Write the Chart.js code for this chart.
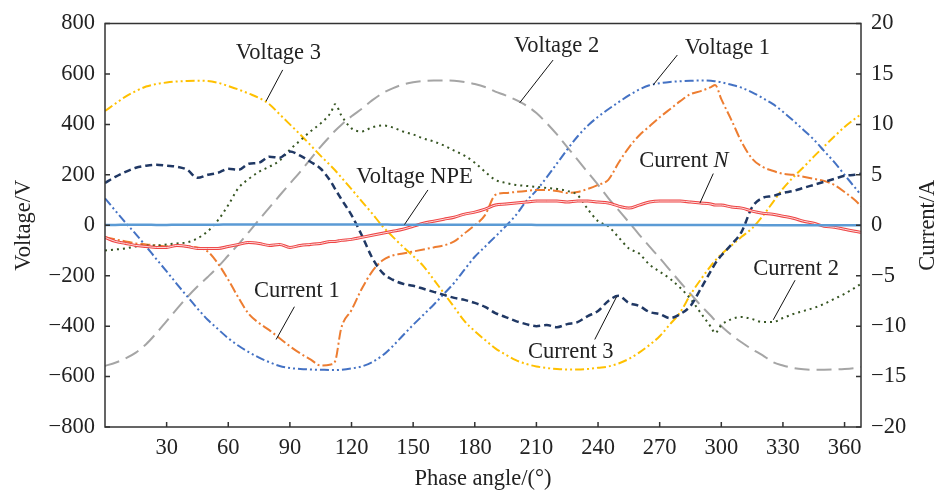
<!DOCTYPE html>
<html><head><meta charset="utf-8">
<script src="https://cdn.jsdelivr.net/npm/chart.js@4.4.1/dist/chart.umd.min.js"></script>
<style>html,body{margin:0;padding:0;background:#fff;}canvas{display:block;}</style>
</head><body>
<canvas id="c" width="938" height="495"></canvas>
<script>
// ---- data ----
const angles = [0,5,10,15,20,25,30,35,40,45,
 50,55,60,65,70,75,80,85,90,95,
 100,105,110,112,115,120,125,130,135,140,
 145,150,155,160,165,170,175,180,185,190,
 195,200,205,210,215,220,225,230,235,240,
 245,250,255,260,265,270,275,280,285,290,
 295,297,300,305,310,315,320,325,330,335,
 340,345,350,355,360,365,368];

const voltage1 = [107,58,10,-35,-84,-134,-183,-233,-282,-330,
 -375,-412,-448,-478,-503,-525,-543,-558,-566,-570,
 -572,-573,-574,-574,-573,-568,-560,-543,-517,-480,
 -437,-395,-355,-315,-272,-228,-176,-125,-85,-45,
 -4,40,95,138,190,245,300,352,395,430,
 460,488,515,538,555,563,568,571,573,574,
 573,571,567,557,545,527,505,481,450,415,
 378,340,295,250,200,150,120];

const voltage2 = [-558,-545,-528,-505,-472,-428,-380,-332,-285,-243,
 -205,-165,-120,-75,-27,22,70,118,165,212,
 262,312,357,375,398,432,462,495,523,543,
 558,567,572,574,574,573,568,560,548,530,
 515,497,475,445,405,360,310,260,210,160,
 108,60,12,-37,-84,-130,-178,-226,-272,-318,
 -360,-378,-400,-435,-465,-492,-515,-542,-556,-566,
 -571,-573,-573,-572,-570,-566,-562];

const voltage3 = [453,482,510,532,550,560,566,570,572,573,
 572,565,552,538,522,505,480,440,400,360,
 318,275,235,218,190,143,95,47,-3,-45,
 -85,-122,-162,-215,-270,-325,-380,-420,-455,-488,
 -513,-535,-550,-560,-566,-570,-572,-572,-570,-565,
 -560,-548,-530,-505,-475,-440,-393,-345,-275,-215,
 -160,-140,-115,-80,-45,-12,35,90,145,190,
 230,272,312,352,390,422,440];

const voltageNPE = [1,1,2,2,2,1,1,2,2,2,
 2,2,3,3,3,3,3,3,3,3,
 3,3,3,3,3,3,3,3,3,2,
 2,2,2,2,2,2,2,2,2,2,
 2,2,2,1,1,1,1,1,1,1,
 1,1,1,1,1,1,1,1,1,1,
 1,1,1,1,1,1,0,0,0,0,
 0,0,0,0,0,0,0];

const current1 = [-1.2,-1.4,-1.6,-1.8,-1.9,-2.0,-2.1,-2.0,-2.1,-2.2,
 -2.6,-3.8,-5.4,-7.2,-8.8,-9.7,-10.4,-11.2,-12.0,-12.7,
 -13.3,-13.9,-13.8,-13.5,-10.2,-8.4,-6.3,-4.6,-3.5,-3.0,
 -2.8,-2.6,-2.4,-2.2,-2.0,-1.6,-0.8,0.0,1.0,3.0,
 3.2,3.3,3.4,3.5,3.5,3.4,3.2,3.3,3.6,4.0,
 4.5,6.2,7.7,8.9,9.8,10.7,11.5,12.3,13.0,13.3,
 13.7,13.9,12.5,10.4,8.2,6.6,5.8,5.4,5.1,5.0,
 4.8,4.6,4.4,4.0,3.3,2.5,1.9];

const current2 = [-2.5,-2.4,-2.3,-2.1,-2.0,-2.0,-1.9,-1.8,-1.7,-1.3,
 -0.6,0.5,2.0,3.7,4.6,5.3,5.8,6.4,7.5,8.4,
 9.3,10.1,11.2,12.0,10.9,9.6,9.3,9.7,9.9,9.7,
 9.3,9.0,8.6,8.3,7.9,7.4,6.9,6.2,5.3,4.5,
 4.2,4.0,3.9,3.8,3.7,3.6,3.4,3.0,1.6,0.4,
 -0.1,-1.2,-2.3,-2.8,-3.9,-4.6,-5.3,-6.2,-7.3,-8.7,
 -10.1,-10.7,-9.9,-9.3,-9.1,-9.3,-9.6,-9.6,-9.2,-8.8,
 -8.5,-8.2,-7.8,-7.3,-6.8,-6.2,-5.8];

const current3 = [4.2,4.8,5.3,5.7,5.9,6.0,5.9,5.8,5.5,4.7,
 5.0,5.2,5.6,5.5,6.1,6.2,6.8,6.7,7.3,6.9,
 6.3,5.6,4.3,3.6,2.6,1.0,-1.0,-3.2,-4.7,-5.4,
 -5.8,-6.0,-6.3,-6.6,-6.9,-7.2,-7.4,-7.7,-8.1,-8.7,
 -9.1,-9.5,-9.8,-10.0,-9.9,-10.1,-9.8,-9.6,-9.0,-8.5,
 -7.5,-7.0,-7.7,-8.0,-8.6,-8.8,-9.2,-8.8,-8.0,-6.3,
 -4.5,-3.8,-3.0,-1.9,-0.6,1.8,2.7,2.9,3.2,3.4,
 3.7,4.0,4.3,4.6,4.9,5.0,5.1];

const currentN = [-1.2,-1.6,-1.8,-2.0,-2.1,-2.2,-2.2,-2.0,-2.1,-2.3,
 -2.3,-2.3,-2.1,-1.9,-1.7,-1.8,-2.0,-1.9,-2.2,-2.0,
 -1.9,-1.8,-1.6,-1.6,-1.5,-1.4,-1.2,-1.0,-0.8,-0.6,
 -0.4,-0.1,0.2,0.4,0.6,0.8,1.1,1.3,1.6,2.0,
 2.1,2.2,2.3,2.4,2.4,2.4,2.3,2.4,2.4,2.3,
 2.2,1.9,1.7,2.0,2.3,2.4,2.4,2.4,2.3,2.2,
 2.1,2.0,2.0,1.8,1.7,1.4,1.2,1.1,0.9,0.7,
 0.4,0.2,-0.1,-0.2,-0.4,-0.6,-0.7];

const xTickValues = [30,60,90,120,150,180,210,240,270,300,330,360];
const voltageTicks = [-800,-600,-400,-200,0,200,400,600,800];
const currentTicks = [-20,-15,-10,-5,0,5,10,15,20];

const xTitle = 'Phase angle/(°)';
const yTitle = 'Voltage/V';
const y1Title = 'Current/A';

// annotation labels: text anchor and leader line in data units (angle, voltage axis)
const annotations = [
  {text:'Voltage 3', x:84.4, y:659, line:[86.5,616,78.4,492]},
  {text:'Voltage 2', x:219.8, y:688, line:[218.1,655,201.9,486]},
  {text:'Voltage 1', x:303.0, y:678, line:[278.6,675,266.9,557]},
  {text:'Voltage NPE', x:150.7, y:166, line:[157.2,140,145.8,3]},
  {text:'Current ', italic:'N', x:281.8, y:229, line:[296.1,205,289.6,88]},
  {text:'Current 1', x:93.4, y:-284, line:[92.2,-323,83.3,-453]},
  {text:'Current 3', x:226.7, y:-528, line:[238.4,-453,249.0,-284]},
  {text:'Current 2', x:336.4, y:-199, line:[335.9,-218,325.3,-375]}
];

// ---- chart ----
const FONT = "'Liberation Serif', 'Times New Roman', serif";
const FS = 22.5;
const TXT = '#222';
const pts = arr => angles.map((a,i)=>({x:a, y:arr[i]}));
const fmt = v => v < 0 ? '\u2212' + Math.abs(v) : String(v);

function ds(label, arr, axis, color, width, dash){
  return {label, data: pts(arr), yAxisID: axis, borderColor: color, borderWidth: width,
    borderDash: dash, pointRadius: 0, fill: false, cubicInterpolationMode: 'monotone'};
}

const datasets = [
  ds('Voltage NPE', voltageNPE, 'y', '#5B9BD5', 2.5, []),
  ds('Current N inner', currentN, 'y1', '#FCDCDC', 1, []),
  ds('Current N', currentN, 'y1', '#EE4444', 3, []),
  ds('Current 3', current3, 'y1', '#203864', 2.5, [7,4]),
  ds('Current 2', current2, 'y1', '#375623', 2, [2,4]),
  ds('Current 1', current1, 'y1', '#ED7D31', 2, [10,3,2,3]),
  ds('Voltage 1', voltage1, 'y', '#4472C4', 2, [9,3,2,3,2,3]),
  ds('Voltage 3', voltage3, 'y', '#FFC000', 2, [9,3,2,3,2,3]),
  ds('Voltage 2', voltage2, 'y', '#A5A5A5', 2, [15,7])
];

const axisCommon = {
  grid: {display: false, drawTicks: false},
  border: {display: false},
  ticks: {color: TXT, font: {family: FONT, size: FS}, padding: 10, autoSkip: false, maxRotation: 0}
};

const framePlugin = {
  id: 'frame',
  afterDraw(chart){
    const {ctx, chartArea: a, scales} = chart;
    ctx.save();
    ctx.strokeStyle = '#333';
    ctx.lineWidth = 1.5;
    ctx.strokeRect(a.left, a.top, a.right - a.left, a.bottom - a.top);
    ctx.beginPath();
    scales.x.ticks.forEach(t => { const p = scales.x.getPixelForValue(t.value); ctx.moveTo(p, a.bottom); ctx.lineTo(p, a.bottom - 5); });
    scales.y.ticks.forEach(t => { const p = scales.y.getPixelForValue(t.value); ctx.moveTo(a.left, p); ctx.lineTo(a.left + 5, p); });
    scales.y1.ticks.forEach(t => { const p = scales.y1.getPixelForValue(t.value); ctx.moveTo(a.right, p); ctx.lineTo(a.right - 5, p); });
    ctx.stroke();

    // axis titles
    ctx.fillStyle = TXT;
    ctx.font = FS + 'px ' + FONT;
    ctx.textAlign = 'center';
    ctx.textBaseline = 'alphabetic';
    ctx.fillText(xTitle, (a.left + a.right) / 2, 485);
    const cy = (a.top + a.bottom) / 2;
    ctx.save(); ctx.translate(30, cy); ctx.rotate(-Math.PI/2); ctx.fillText(yTitle, 0, 0); ctx.restore();
    ctx.save(); ctx.translate(934, cy); ctx.rotate(-Math.PI/2); ctx.fillText(y1Title, 0, 0); ctx.restore();

    // annotations
    const X = scales.x, Y = scales.y;
    ctx.strokeStyle = '#111';
    ctx.lineWidth = 1;
    annotations.forEach(an => {
      const [x1,y1,x2,y2] = an.line;
      ctx.beginPath();
      ctx.moveTo(X.getPixelForValue(x1), Y.getPixelForValue(y1));
      ctx.lineTo(X.getPixelForValue(x2), Y.getPixelForValue(y2));
      ctx.stroke();
      const cx = X.getPixelForValue(an.x), by = Y.getPixelForValue(an.y);
      ctx.font = FS + 'px ' + FONT;
      if (an.italic) {
        const w1 = ctx.measureText(an.text).width;
        ctx.font = 'italic ' + FS + 'px ' + FONT;
        const w2 = ctx.measureText(an.italic).width;
        const sx = cx - (w1 + w2) / 2;
        ctx.textAlign = 'left';
        ctx.font = FS + 'px ' + FONT;
        ctx.fillText(an.text, sx, by);
        ctx.font = 'italic ' + FS + 'px ' + FONT;
        ctx.fillText(an.italic, sx + w1, by);
      } else {
        ctx.textAlign = 'center';
        ctx.fillText(an.text, cx, by);
      }
    });
    ctx.restore();
  }
};

new Chart(document.getElementById('c'), {
  type: 'line',
  data: {datasets},
  options: {
    responsive: false,
    animation: false,
    devicePixelRatio: 1,
    layout: {padding: {top: 18, left: 0, right: 0, bottom: 0}},
    plugins: {legend: {display: false}, tooltip: {enabled: false}},
    scales: {
      x: Object.assign({}, axisCommon, {
        type: 'linear', position: 'bottom', min: 0, max: 368,
        afterBuildTicks: s => { s.ticks = xTickValues.map(v => ({value: v})); },
        afterFit: s => { s.height = 68; },
        ticks: Object.assign({}, axisCommon.ticks, {padding: 8, callback: v => String(v)})
      }),
      y: Object.assign({}, axisCommon, {
        type: 'linear', position: 'left', min: -800, max: 800,
        afterBuildTicks: s => { s.ticks = voltageTicks.map(v => ({value: v})); },
        afterFit: s => { s.width = 105; },
        ticks: Object.assign({}, axisCommon.ticks, {callback: v => fmt(v)})
      }),
      y1: Object.assign({}, axisCommon, {
        type: 'linear', position: 'right', min: -20, max: 20,
        afterBuildTicks: s => { s.ticks = currentTicks.map(v => ({value: v})); },
        afterFit: s => { s.width = 77; },
        ticks: Object.assign({}, axisCommon.ticks, {callback: v => fmt(v)})
      })
    }
  },
  plugins: [framePlugin]
});
</script>
</body></html>
